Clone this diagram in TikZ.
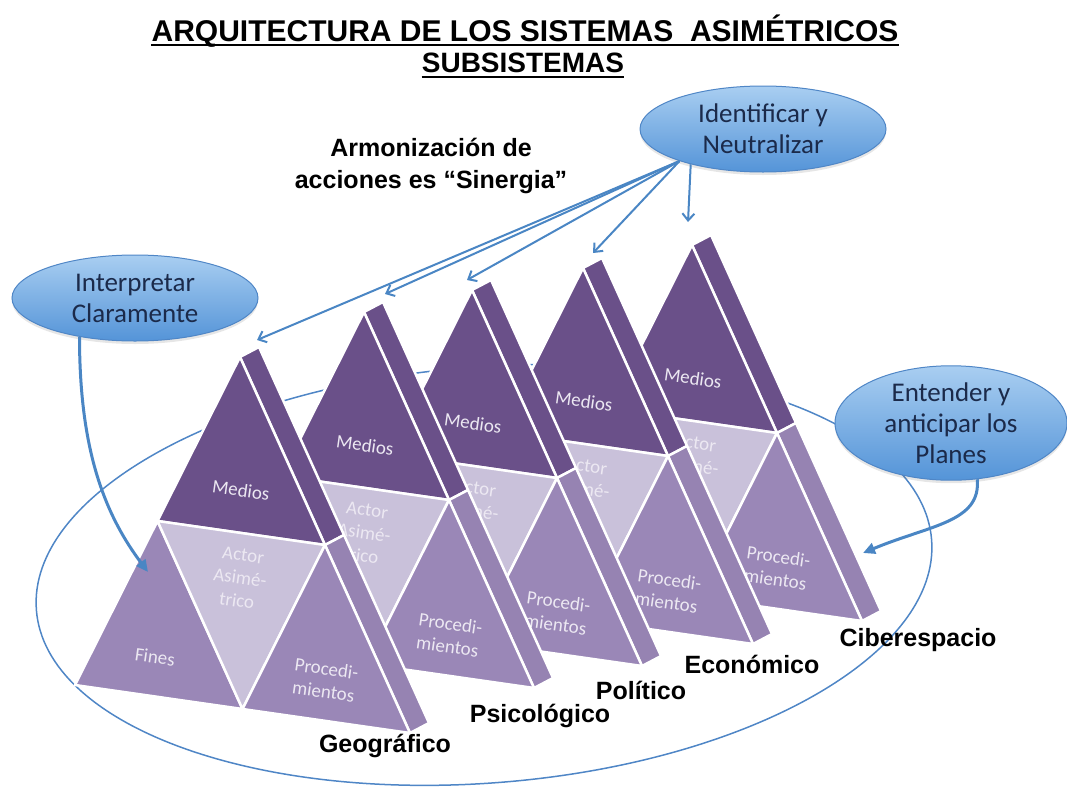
\documentclass[tikz,border=0pt]{standalone}
\usepackage{fontspec}
\setmainfont{Liberation Sans}
\newfontfamily\bubblefont{Carlito}
\usepackage{tikz}
\usetikzlibrary{arrows.meta,positioning,shapes.geometric,shadows}
\definecolor{medios}{HTML}{6A5089}
\definecolor{fines}{HTML}{9A87B7}
\definecolor{actor}{HTML}{C9C1DA}
\definecolor{slablight}{HTML}{9683B2}
\definecolor{facetext}{HTML}{ECE8F2}
\definecolor{bubtop}{HTML}{A9CEF1}
\definecolor{bubbot}{HTML}{5494D8}
\definecolor{bubline}{HTML}{4F86C6}
\definecolor{bubtext}{HTML}{1B2A4A}
\definecolor{arrowblue}{HTML}{4A86C4}

\begin{document}
\begin{tikzpicture}[x=1pt, y=-1pt,
  face/.style={draw=white, line width=2.5pt, line join=round},
  facelbl/.style={text=facetext, font=\bubblefont\fontsize{19}{23}\selectfont, align=center, rotate=-8},
  bubble/.style={ellipse, draw=bubline, line width=1pt, top color=bubtop, bottom color=bubbot,
    text=bubtext, font=\bubblefont\fontsize{27}{31}\selectfont, align=center, inner sep=0pt,
    drop shadow={opacity=0.2, shadow xshift=0pt, shadow yshift=-3pt}},
  sublbl/.style={font=\bfseries\fontsize{25}{30}\selectfont},
  link/.style={arrowblue, line width=2pt, -{Straight Barb[length=7pt,width=12pt]}},
  curvelink/.style={arrowblue, line width=3pt, -{Triangle[length=12pt,width=11pt]}}]
  \useasboundingbox (0,0) rectangle (1067,787);

  % Titles
  \node[font=\bfseries\fontsize{30}{36}\selectfont, inner sep=0pt] (title) at (525,31)
    {ARQUITECTURA DE LOS SISTEMAS\ \ ASIMÉTRICOS};
  \draw[line width=2pt] ([yshift=-4pt]title.base west) -- ([yshift=-4pt]title.base east);
  \node[font=\bfseries\fontsize{28}{32}\selectfont, inner sep=0pt] (subt) at (523,63) {SUBSISTEMAS};
  \draw[line width=2pt] ([yshift=-4pt]subt.base west) -- ([yshift=-4pt]subt.base east);
  \node[font=\bfseries\fontsize{25}{32}\selectfont, align=center] (sinergia) at (431,166)
    {Armonización de\\acciones es “Sinergia”};

  % Ring round the subsystems
  \draw[bubline, line width=1.5pt, rotate around={4.5:(484,575)}] (484,575) ellipse [x radius=449, y radius=208];

  % Pyramids, back to front
  \foreach \px/\py/\tx/\ty/\nm in {692/245/-4/-23/cib, 583/268/10/-15/eco, 472/290/-5/-10/pol,
      364/312/21/-18/psi, 240/357/17/-17/geo} {
    \begin{scope}[shift={(\px,\py)}]
      % side slab
      \path[face, fill=medios] (0,0) -- (85,188) -- (104,178) -- (19,-10) -- cycle;
      \path[face, fill=slablight] (85,188) -- (170,376) -- (189,366) -- (104,178) -- cycle;
      % front face
      \path[face, fill=medios] (0,0) -- (-82.5,164) -- (85,188) -- cycle;
      \path[face, fill=fines] (-82.5,164) -- (-165,328) -- (2.5,352) -- cycle;
      \path[face, fill=actor] (-82.5,164) -- (2.5,352) -- (85,188) -- cycle;
      \path[face, fill=fines] (85,188) -- (2.5,352) -- (170,376) -- cycle;
      \node[facelbl] (med\nm) at (1,133) {Medios};
      \node[facelbl] (act\nm) at (0,221) {Actor\\Asimé-\\trico};
      \node[facelbl] (pro\nm) at (85,323) {Procedi-\\mientos};
      \coordinate (tip\nm) at (\tx,\ty);
    \end{scope}
  }
  \node[facelbl] (fin) at (155,657) {Fines};
  \coordinate (finpt) at (148,572);
  \coordinate (propt) at (863,553);

  % Subsystem names
  \node[sublbl] (geo) at (385,746) {Geográfico};
  \node[sublbl] (psi) at (540,716) {Psicológico};
  \node[sublbl] (pol) at (641,690) {Político};
  \node[sublbl] (eco) at (752,664) {Económico};
  \node[sublbl] (cib) at (918,640) {Ciberespacio};

  % Bubbles
  \node[bubble, minimum width=246, minimum height=86] (idn) at (763,129) {Identificar y\\Neutralizar};
  \node[bubble, minimum width=246, minimum height=86] (itp) at (135,298) {Interpretar\\Claramente};
  \node[bubble, minimum width=232, minimum height=100] (ent) at (951,423) {Entender y\\anticipar los\\Planes};

  % Arrows
  \foreach \nm in {geo,psi,pol,eco}
    \draw[link] (idn.201) -- (tip\nm);
  \draw[link] (idn.206) -- (tipcib);
  \draw[curvelink] (itp.215) .. controls +(0,110) and +(-45,-60) .. (finpt);
  \draw[curvelink] (ent.-65) .. controls +(4,43) and +(67,-28) .. (propt);
\end{tikzpicture}
\end{document}
